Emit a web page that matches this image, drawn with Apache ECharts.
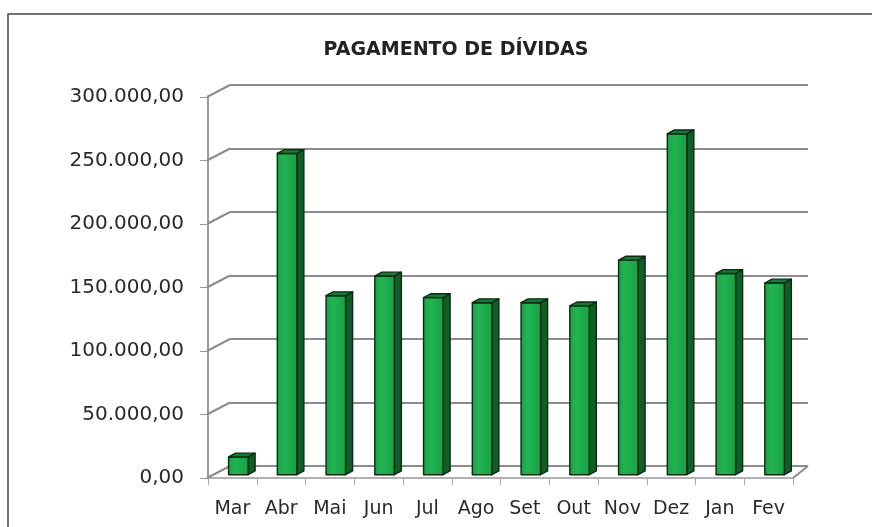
<!DOCTYPE html>
<html>
<head>
<meta charset="utf-8">
<script src="https://cdn.jsdelivr.net/npm/echarts@6/dist/echarts.min.js"></script>
<style>
  html, body { margin: 0; padding: 0; background: #fff; }
  #chart { width: 872px; height: 527px; }
</style>
</head>
<body>
<div id="chart"></div>
<script>
const months = ['Mar', 'Abr', 'Mai', 'Jun', 'Jul', 'Ago', 'Set', 'Out', 'Nov', 'Dez', 'Jan', 'Fev'];
const payments = [14000, 253000, 141000, 156500, 139500, 135500, 135500, 133000, 169000, 268500, 158500, 151000];
const yTicks = [0, 50000, 100000, 150000, 200000, 250000, 300000];

// depth of the fake 3D box (px)
const DX = 22, DX_RIGHT = 15, DY = -12;
const FONT = 'DejaVu Sans';

const fmt = (v) => {
  const s = Math.round(v).toString().replace(/\B(?=(\d{3})+(?!\d))/g, '.');
  return s + ',00';
};

const chart = echarts.init(document.getElementById('chart'), null, { renderer: 'canvas' });

// bar com face frontal, lateral e topo
const renderBar = (params, api) => {
  const idx = api.value(0);
  const val = api.value(1);
  const top = api.coord([idx, val]);
  const base = api.coord([idx, 0]);
  const band = api.size([1, 0])[0];
  const hw = band * 0.2;
  const f1 = 0.27, f2 = 0.59;
  const cx = top[0] + DX * f1;
  const l = cx - hw, r = cx + hw;
  const yt = top[1] + DY * f1;
  const yb = base[1] + DY * f1;
  const sx = DX * (f2 - f1), sy = DY * (f2 - f1);
  const stroke = { stroke: '#0b2a12', lineWidth: 1.4, lineJoin: 'round' };
  return {
    type: 'group',
    children: [
      {
        type: 'polygon',
        shape: { points: [[r, yt], [r + sx, yt + sy], [r + sx, yb + sy], [r, yb]] },
        style: Object.assign({ fill: '#0f5e28' }, stroke),
      },
      {
        type: 'rect',
        shape: { x: l, y: yt, width: r - l, height: yb - yt },
        style: Object.assign({
          fill: new echarts.graphic.LinearGradient(0, 0, 1, 0, [
            { offset: 0, color: '#1c9e45' },
            { offset: 0.35, color: '#22b452' },
            { offset: 1, color: '#17a044' },
          ]),
        }, stroke),
      },
      {
        type: 'polygon',
        shape: { points: [[l, yt], [r, yt], [r + sx, yt + sy], [l + sx, yt + sy]] },
        style: Object.assign({ fill: '#157a36' }, stroke),
      },
    ],
  };
};

// diagonais da parede lateral e do piso
const renderWall = (params, api) => {
  const v = api.value(0);
  const p = api.coord([0, v]);
  const cs = params.coordSys;
  const children = [{
    type: 'line',
    shape: { x1: cs.x - 1, y1: p[1], x2: cs.x + DX, y2: p[1] + DY },
    style: { stroke: '#8c8c8c', lineWidth: 2 },
  }];
  if (v === 0) {
    children.push({
      type: 'line',
      shape: { x1: cs.x + cs.width, y1: p[1], x2: cs.x + cs.width + DX_RIGHT, y2: p[1] + DY },
      style: { stroke: '#8c8c8c', lineWidth: 2 },
    });
  }
  return { type: 'group', children };
};

const option = {
  animation: false,
  backgroundColor: '#fff',
  title: {
    text: 'PAGAMENTO DE DÍVIDAS',
    left: 451,
    top: 36,
    textAlign: 'center',
    textStyle: { fontFamily: FONT, fontWeight: 'bold', fontSize: 19, color: '#222' },
  },
  graphic: [{
    type: 'rect',
    shape: { x: 8, y: 14, width: 900, height: 600 },
    style: { fill: 'none', stroke: '#444', lineWidth: 1.5 },
    silent: true,
  }],
  grid: [
    { left: 208, right: 79, top: 97, bottom: 49 },
    { left: 230, right: 64, top: 85, bottom: 61 },
  ],
  xAxis: [
    {
      type: 'category',
      gridIndex: 0,
      data: months,
      axisLine: { lineStyle: { color: '#999', width: 1.5 } },
      axisTick: { show: true, length: 7, lineStyle: { color: '#aaa' } },
      axisLabel: { margin: 22, fontFamily: FONT, fontSize: 19, color: '#2a2a2a' },
    },
    {
      type: 'category',
      gridIndex: 1,
      data: months,
      show: false,
    },
  ],
  yAxis: [
    {
      type: 'value',
      gridIndex: 0,
      min: 0,
      max: 300000,
      interval: 50000,
      axisLine: { show: true, lineStyle: { color: '#999', width: 2 } },
      axisTick: { show: true, length: 8, lineStyle: { color: '#999' } },
      splitLine: { show: false },
      axisLabel: { margin: 24, fontFamily: FONT, fontSize: 20, color: '#2a2a2a', formatter: fmt },
    },
    {
      type: 'value',
      gridIndex: 1,
      min: 0,
      max: 300000,
      interval: 50000,
      axisLine: { show: false },
      axisTick: { show: false },
      axisLabel: { show: false },
      splitLine: { show: true, lineStyle: { color: '#8c8c8c', width: 2 } },
    },
  ],
  series: [
    {
      type: 'custom',
      name: 'parede',
      xAxisIndex: 0,
      yAxisIndex: 0,
      encode: { y: 0 },
      data: yTicks.map((v) => [v]),
      renderItem: renderWall,
      silent: true,
      z: 1,
    },
    {
      type: 'custom',
      name: 'Pagamento',
      xAxisIndex: 0,
      yAxisIndex: 0,
      encode: { x: 0, y: 1 },
      data: payments.map((v, i) => [i, v]),
      renderItem: renderBar,
      z: 5,
    },
  ],
};

chart.setOption(option);
</script>
</body>
</html>
